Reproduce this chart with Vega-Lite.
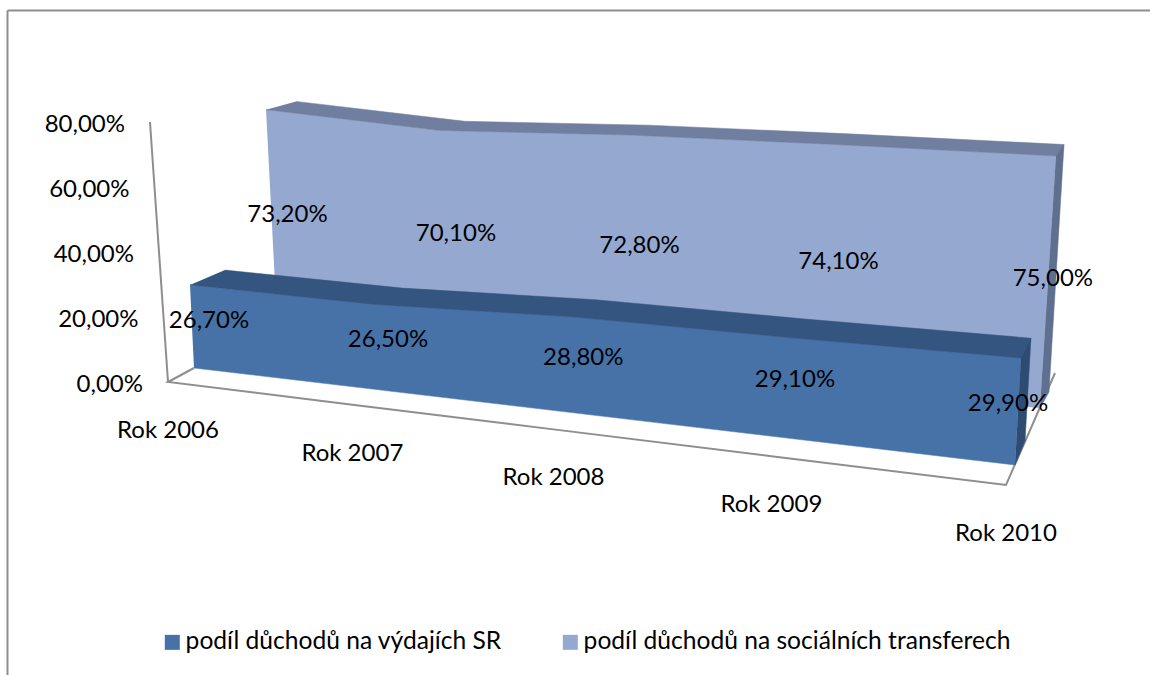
{"$schema":"https://vega.github.io/schema/vega-lite/v6.json","width":1143,"height":665,"padding":{"left":7,"top":10,"right":0,"bottom":0},"autosize":{"type":"none"},"background":"white","config":{"view":{"stroke":null}},
"params":[
{"name":"xb0","value":[168,181,194,211,229,253,277,292,307,316]},
{"name":"yb0","value":[382,375,368,360,351,337,322,316,310,304]},
{"name":"kx0","value":[-0.225,-0.19,-0.15,-0.15,-0.15,-0.15,-0.15,-0.15,-0.15,-0.15]},
{"name":"ky0","value":[3.25,3.18,3.11,3.07,3.03,2.97,2.9,2.875,2.85,2.82]},
{"name":"xb4","value":[1006,1010,1015,1020,1025,1032,1040,1044,1049,1055]},
{"name":"yb4","value":[485,475,465,453,441,424,408,400,392,373]},
{"name":"kx4","value":[0.25,0.22,0.2,0.2,0.2,0.2,0.213,0.21,0.2,0.2]},
{"name":"ky4","value":[3.65,3.6,3.58,3.51,3.44,3.4,3.36,3.33,3.3,3.27]}
],
"data":{"values":[
{"year":"Rok 2006","series":"podíl důchodů na výdajích SR","value":26.7},
{"year":"Rok 2007","series":"podíl důchodů na výdajích SR","value":26.5},
{"year":"Rok 2008","series":"podíl důchodů na výdajích SR","value":28.8},
{"year":"Rok 2009","series":"podíl důchodů na výdajích SR","value":29.1},
{"year":"Rok 2010","series":"podíl důchodů na výdajích SR","value":29.9},
{"year":"Rok 2006","series":"podíl důchodů na sociálních transferech","value":73.2},
{"year":"Rok 2007","series":"podíl důchodů na sociálních transferech","value":70.1},
{"year":"Rok 2008","series":"podíl důchodů na sociálních transferech","value":72.8},
{"year":"Rok 2009","series":"podíl důchodů na sociálních transferech","value":74.1},
{"year":"Rok 2010","series":"podíl důchodů na sociálních transferech","value":75.0},
{"year":"Rok 2006","series":"axis","value":0},
{"year":"Rok 2007","series":"axis","value":0},
{"year":"Rok 2008","series":"axis","value":0},
{"year":"Rok 2009","series":"axis","value":0},
{"year":"Rok 2010","series":"axis","value":0},
{"year":"Rok 2006","series":"axis","value":20},
{"year":"Rok 2006","series":"axis","value":40},
{"year":"Rok 2006","series":"axis","value":60},
{"year":"Rok 2006","series":"axis","value":80}
]},
"transform":[
{"calculate":"indexof(['Rok 2006','Rok 2007','Rok 2008','Rok 2009','Rok 2010'],datum.year)","as":"i"},
{"calculate":"[0,0.22,0.46,0.72,1][datum.i]","as":"t"},
{"calculate":"datum.series=='axis'?[-1,0,3.5]:(datum.series=='podíl důchodů na výdajích SR'?[0,0.5,1]:[2,2.5,3])","as":"depths"},
{"flatten":["depths"],"as":["d"]},
{"calculate":"['top','base','mid']","as":"levels"},
{"flatten":["levels"],"as":["lvl"]},
{"calculate":"datum.lvl=='top'?datum.value:(datum.lvl=='base'?0:datum.value/2)","as":"v"},
{"calculate":"(datum.d+1)*2","as":"k"},
{"calculate":"(1-datum.t)*(xb0[datum.k]+kx0[datum.k]*datum.v)+datum.t*(xb4[datum.k]+kx4[datum.k]*datum.v)","as":"px"},
{"calculate":"(1-datum.t)*(yb0[datum.k]-ky0[datum.k]*datum.v)+datum.t*(yb4[datum.k]-ky4[datum.k]*datum.v)","as":"py"},
{"calculate":"replace(format(datum.value,'.2f'),'.',',')+'%'","as":"label"}
],
"encoding":{
"x":{"field":"px","type":"quantitative","title":null,"scale":{"domain":[7,1150],"nice":false,"zero":false},"axis":{"orient":"top","labels":false,"ticks":false,"grid":false,"domainColor":"#8e8e8e","domainWidth":2}},
"y":{"field":"py","type":"quantitative","title":null,"scale":{"domain":[675,10],"nice":false,"zero":false},"axis":{"orient":"left","labels":false,"ticks":false,"grid":false,"domainColor":"#8e8e8e","domainWidth":2}}
},
"layer":[
{"transform":[{"filter":"datum.series=='axis'&&datum.i==0&&datum.d==-1&&datum.lvl=='top'"}],"mark":{"type":"line","stroke":"#8e8e8e","strokeWidth":2},"encoding":{"order":{"field":"value","type":"quantitative"}}},
{"transform":[{"filter":"datum.series=='axis'&&datum.value==0&&datum.lvl=='top'&&((datum.i==0&&datum.d<=0)||datum.d==-1||(datum.i==4&&datum.d!=0))"},{"calculate":"datum.d==-1?datum.i+1:(datum.i==0?0:9)","as":"ord"}],"mark":{"type":"line","stroke":"#8e8e8e","strokeWidth":2},"encoding":{"order":{"field":"ord","type":"quantitative"}}},
{"transform":[{"filter":"datum.series!='axis'&&datum.d==2&&datum.lvl!='mid'"},{"calculate":"datum.lvl=='top'?datum.i:100-datum.i","as":"ord"}],"mark":{"type":"line","stroke":"#95a9d0","strokeWidth":0.5},"encoding":{"order":{"field":"ord","type":"quantitative"},"fill":{"field":"series","type":"nominal","scale":{"domain":["podíl důchodů na výdajích SR","podíl důchodů na sociálních transferech"],"range":["#4672a8","#95a9d0"]},"legend":{"title":null,"orient":"none","legendX":153,"legendY":620,"direction":"horizontal","symbolType":"square","symbolSize":225,"symbolStrokeWidth":0,"labelFont":"Lato","labelFontSize":24.6,"labelColor":"#000000","labelLimit":0,"labelOffset":1,"columnPadding":56,"symbolOpacity":1}}}},
{"transform":[{"filter":"datum.series!='axis'&&(datum.d==2||datum.d==3)&&datum.lvl=='top'"},{"calculate":"datum.d==2?datum.i:100-datum.i","as":"ord"}],"mark":{"type":"line","fill":"#707f9f","stroke":"#707f9f","strokeWidth":0.5},"encoding":{"order":{"field":"ord","type":"quantitative"}}},
{"transform":[{"filter":"datum.series!='axis'&&(datum.d==2||datum.d==3)&&datum.i==4&&datum.lvl!='mid'"},{"calculate":"datum.d==2?(datum.lvl=='top'?1:4):(datum.lvl=='top'?2:3)","as":"ord"}],"mark":{"type":"line","fill":"#5e6f8f","stroke":"#5e6f8f","strokeWidth":0.5},"encoding":{"order":{"field":"ord","type":"quantitative"}}},
{"transform":[{"filter":"datum.series!='axis'&&datum.d==0&&datum.lvl!='mid'"},{"calculate":"datum.lvl=='top'?datum.i:100-datum.i","as":"ord"}],"mark":{"type":"line","stroke":"#4672a8","strokeWidth":0.5},"encoding":{"order":{"field":"ord","type":"quantitative"},"fill":{"field":"series","type":"nominal"}}},
{"transform":[{"filter":"datum.series!='axis'&&(datum.d==0||datum.d==1)&&datum.lvl=='top'"},{"calculate":"datum.d==0?datum.i:100-datum.i","as":"ord"}],"mark":{"type":"line","fill":"#34557f","stroke":"#34557f","strokeWidth":0.5},"encoding":{"order":{"field":"ord","type":"quantitative"}}},
{"transform":[{"filter":"datum.series!='axis'&&(datum.d==0||datum.d==1)&&datum.i==4&&datum.lvl!='mid'"},{"calculate":"datum.d==0?(datum.lvl=='top'?1:4):(datum.lvl=='top'?2:3)","as":"ord"}],"mark":{"type":"line","fill":"#2e4c72","stroke":"#2e4c72","strokeWidth":0.5},"encoding":{"order":{"field":"ord","type":"quantitative"}}},
{"transform":[{"filter":"datum.d==2.5&&datum.lvl=='mid'"}],"mark":{"type":"text","font":"Lato","fontSize":24,"color":"#000000","dy":4,"dx":1},"encoding":{"text":{"field":"label"}}},
{"transform":[{"filter":"datum.d==0.5&&datum.lvl=='mid'&&datum.i<4"}],"mark":{"type":"text","font":"Lato","fontSize":24,"color":"#000000","dy":2},"encoding":{"text":{"field":"label"}}},
{"transform":[{"filter":"datum.d==0.5&&datum.i==4&&datum.lvl=='mid'"}],"mark":{"type":"text","font":"Lato","fontSize":24,"color":"#000000","dx":-15,"dy":3},"encoding":{"text":{"field":"label"}}},
{"transform":[{"filter":"datum.series=='axis'&&datum.i==0&&datum.d==-1&&datum.lvl=='top'"}],"mark":{"type":"text","font":"Lato","fontSize":24,"color":"#000000","align":"right","dx":-25,"dy":3},"encoding":{"text":{"field":"label"}}},
{"transform":[{"filter":"datum.series=='axis'&&datum.value==0&&datum.d==-1&&datum.lvl=='top'"}],"mark":{"type":"text","font":"Lato","fontSize":24,"color":"#000000","dy":49},"encoding":{"text":{"field":"year"}}}
]}
